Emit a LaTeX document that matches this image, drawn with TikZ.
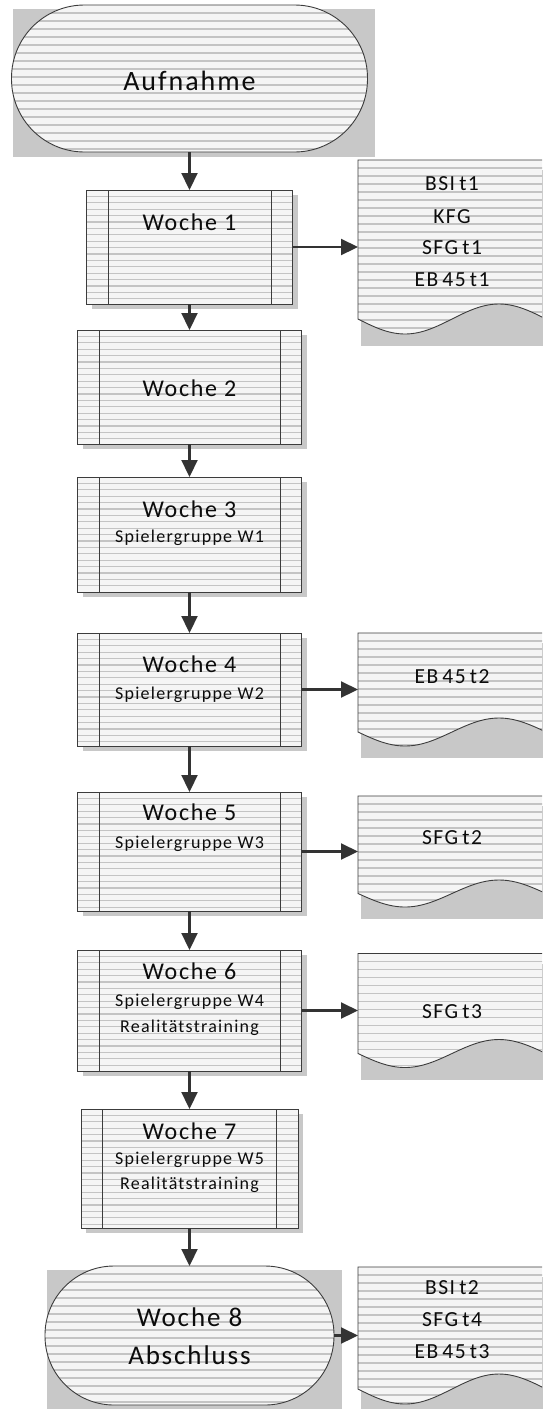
\documentclass[tikz,border=0pt]{standalone}
\usepackage{fontspec}
\setmainfont{Carlito}[LetterSpace=7]
\newfontfamily\docfont{Carlito}[LetterSpace=7, WordSpace=0.65]
\usetikzlibrary{arrows.meta,calc,backgrounds}
\definecolor{shapefill}{HTML}{F5F5F5}
\definecolor{hatchcol}{HTML}{C4C4C4}
\definecolor{shadowcol}{HTML}{C8C8C8}
\definecolor{edgecol}{HTML}{3C3C3C}
\definecolor{arrowcol}{HTML}{333333}
\definecolor{textcol}{HTML}{0C0C0C}
\tikzset{
  hatchline/.style={draw=hatchcol, line width=1.7pt},
  hatchfill/.style={path picture={
      \foreach \k in {1,...,30}{
        \draw[hatchline] ([yshift=-\k*#1]path picture bounding box.north west) -- ([yshift=-\k*#1]path picture bounding box.north east);}}},
  procbox/.style={draw=edgecol, line width=0.9pt, fill=shapefill, inner sep=0pt, outer sep=0pt,
    path picture={
      \foreach \k in {1,...,20}{
        \draw[draw=hatchcol, line width=1.3pt] ([yshift=-\k*6.4pt]path picture bounding box.north west) -- ([yshift=-\k*6.4pt]path picture bounding box.north east);}
      \draw[edgecol, line width=0.9pt] ([xshift=21.5pt]path picture bounding box.north west) -- ([xshift=21.5pt]path picture bounding box.south west);
      \draw[edgecol, line width=0.9pt] ([xshift=-21.5pt]path picture bounding box.north east) -- ([xshift=-21.5pt]path picture bounding box.south east);
    }},
  terminal/.style={draw=edgecol, line width=0.9pt, fill=shapefill, inner sep=0pt, outer sep=0pt, hatchfill=8pt},
  docnode/.style={inner sep=0pt, outer sep=0pt, minimum width=188pt},
  docpath/.style={draw=edgecol, line width=0.9pt, fill=shapefill, hatchfill=8pt},
  shadowbox/.style={fill=shadowcol},
  arr/.style={draw=arrowcol, line width=2.2pt, -{Triangle[length=17pt,width=16pt]}},
  bigtxt/.style={text=textcol, inner sep=0pt, font=\fontsize{28}{31}\selectfont, text height=17.6pt, text depth=0pt},
  midtxt/.style={text=textcol, inner sep=0pt, font=\fontsize{24}{27}\selectfont, text height=15.2pt, text depth=0pt},
  smalltxt/.style={text=textcol, inner sep=0pt, font=\fontsize{18}{21}\selectfont, text height=11.4pt, text depth=0pt},
  doctxt/.style={text=textcol, inner sep=0pt, font=\docfont\fontsize{21.5}{24}\selectfont, text height=13.6pt, text depth=0pt},
}
\newcommand\docoutline[2]{%
  \path[docpath] (#1.north west) -- (#1.north east) -- ($(#1.south east)+(0,-#2)$)
    sin ($(#1.south east)+(-47,-2*#2)$) cos ($(#1.south)+(0,-#2)$)
    sin ($(#1.south west)+(47,0)$) cos ($(#1.south west)+(0,-#2)$) -- cycle;}
\begin{document}
\begin{tikzpicture}[x=1pt,y=-1pt]
\useasboundingbox (0,0) rectangle (542,1409);
\clip (0,0) rectangle (542,1409);

% main flow nodes
\node[terminal, minimum width=356pt, minimum height=147pt, rounded corners=73pt] (a) at (189.5,78.5) {};
\node[procbox, minimum width=206pt, minimum height=114pt] (w1) at (189.5,247) {};
\node[procbox, minimum width=224pt, minimum height=114pt] (w2) at (189.5,387) {};
\node[procbox, minimum width=224pt, minimum height=115pt] (w3) at (189.5,534.5) {};
\node[procbox, minimum width=224pt, minimum height=113pt] (w4) at (189.5,689.5) {};
\node[procbox, minimum width=224pt, minimum height=119pt] (w5) at (189.5,851.5) {};
\node[procbox, minimum width=224pt, minimum height=121pt] (w6) at (189.5,1010.5) {};
\node[procbox, minimum width=217pt, minimum height=119pt] (w7) at (189.5,1168.5) {};
\node[terminal, minimum width=289pt, minimum height=139pt, rounded corners=69pt] (w8) at (189.5,1335.5) {};

% documents
\node[docnode, minimum height=174pt] (d1) at (452,247) {};
\node[docnode, minimum height=113pt] (d2) at (452,689.5) {};
\node[docnode, minimum height=111pt] (d3) at (452,851.5) {};
\node[docnode, minimum height=114pt] (d4) at (452,1010.5) {};
\node[docnode, minimum height=137pt] (d5) at (452,1335.5) {};
\docoutline{d1}{15}
\docoutline{d2}{14}
\docoutline{d3}{13.5}
\docoutline{d4}{14}
\docoutline{d5}{15}

% shadows
\begin{scope}[on background layer]
  \fill[white] (0,0) rectangle (542,1409);
  \fill[shadowbox] ([shift={(1.5,4)}]a.north west) rectangle ([shift={(7.5,5)}]a.south east);
  \fill[shadowbox] ([shift={(2,3.5)}]w8.north west) rectangle ([shift={(8,4)}]w8.south east);
  \foreach \n in {w1,w2,w3,w4,w5,w6,w7}{
    \fill[shadowbox] ([shift={(5,5)}]\n.north west) rectangle ([shift={(5,5)}]\n.south east);}
  \foreach \n in {d1,d2,d3,d4,d5}{
    \fill[shadowbox] ([shift={(3,10)}]\n.north west) rectangle ([shift={(3,12)}]\n.south east);}
\end{scope}

% texts
\node[bigtxt] (at) at (189.5,82) {Aufnahme};
\node[midtxt] (w1t) at (189.5,223) {Woche 1};
\node[midtxt] (w2t) at (189.5,389) {Woche 2};
\node[midtxt] (w3a) at (189.5,510) {Woche 3};
\node[smalltxt] (w3b) at (189.5,537) {Spielergruppe W1};
\node[midtxt] (w4a) at (189.5,665) {Woche 4};
\node[smalltxt] (w4b) at (189.5,694) {Spielergruppe W2};
\node[midtxt] (w5a) at (189.5,813) {Woche 5};
\node[smalltxt] (w5b) at (189.5,843) {Spielergruppe W3};
\node[midtxt] (w6a) at (189.5,972) {Woche 6};
\node[smalltxt] (w6b) at (189.5,1001) {Spielergruppe W4};
\node[smalltxt] (w6c) at (189.5,1027) {Realitätstraining};
\node[midtxt] (w7a) at (189.5,1132) {Woche 7};
\node[smalltxt] (w7b) at (189.5,1159) {Spielergruppe W5};
\node[smalltxt] (w7c) at (189.5,1184) {Realitätstraining};
\node[bigtxt, font=\fontsize{27}{30}\selectfont] (w8a) at (189.5,1318) {Woche 8};
\node[bigtxt, font=\fontsize{27}{30}\selectfont] (w8b) at (189.5,1356) {Abschluss};

\node[doctxt] (d1a) at (452,184) {BSI t1};
\node[doctxt] (d1b) at (452,217) {KFG};
\node[doctxt] (d1c) at (452,248) {SFG t1};
\node[doctxt] (d1d) at (452,280) {EB 45 t1};
\node[doctxt] (d2a) at (452,677) {EB 45 t2};
\node[doctxt] (d3a) at (452,838) {SFG t2};
\node[doctxt] (d4a) at (452,1012) {SFG t3};
\node[doctxt] (d5a) at (452,1288) {BSI t2};
\node[doctxt] (d5b) at (452,1320) {SFG t4};
\node[doctxt] (d5c) at (452,1352) {EB 45 t3};

% connectors
\draw[arr] (a) -- (w1);
\draw[arr] (w1) -- (w2);
\draw[arr] (w2) -- (w3);
\draw[arr] (w3) -- (w4);
\draw[arr] (w4) -- (w5);
\draw[arr] (w5) -- (w6);
\draw[arr] (w6) -- (w7);
\draw[arr] (w7) -- (w8);
\draw[arr] (w1) -- (d1);
\draw[arr] (w4) -- (d2);
\draw[arr] (w5) -- (d3);
\draw[arr] (w6) -- (d4);
\draw[arr] (w8) -- (d5);
\end{tikzpicture}
\end{document}
